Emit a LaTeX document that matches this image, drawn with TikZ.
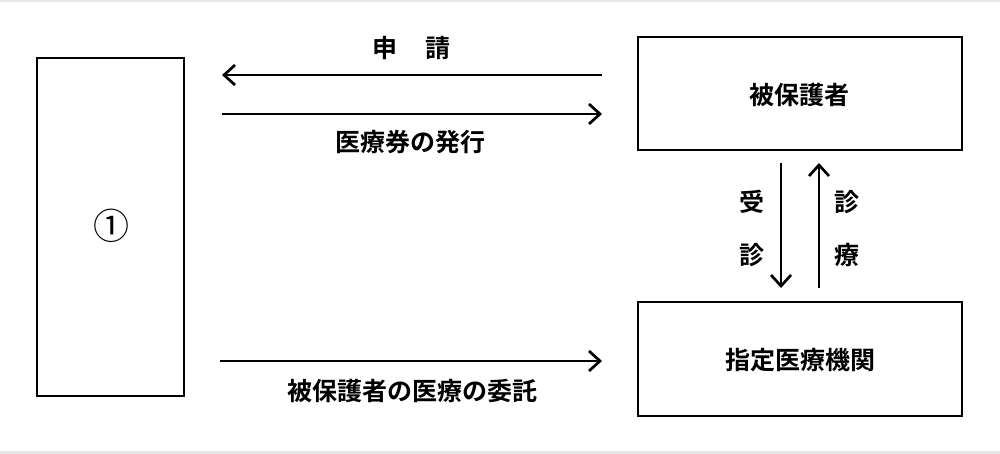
\documentclass[tikz,border=0pt]{standalone}
\usepackage{fontspec}
\newfontfamily\cjk{Noto Sans CJK JP}[BoldFont={Noto Sans CJK JP Bold}]
\usetikzlibrary{arrows.meta}
\begin{document}
\begin{tikzpicture}[x=1pt,y=-1pt,
  box/.style={draw,line width=2.5pt,inner sep=0pt},
  lbl/.style={font=\cjk\bfseries\fontsize{25}{29}\selectfont,inner sep=0pt},
  arr/.style={line width=2.7pt,-{Straight Barb[length=11pt,width=20pt,line width=2.7pt]}}]
\useasboundingbox (0,0) rectangle (1000,454);
\fill[white] (0,0) rectangle (1000,454);
\fill[black!9] (0,0) rectangle (1000,2);
\fill[black!9] (0,451) rectangle (1000,454);
% boxes
\node[box,minimum width=147pt,minimum height=338pt] (A) at (110.5,227) {};
\node[font=\cjk\fontsize{36}{40}\selectfont,inner sep=0pt] (Alab) at (111,226) {①};
\node[box,minimum width=324pt,minimum height=113pt] (B) at (800,93.5) {};
\node[lbl] (Blab) at (799,95) {被保護者};
\node[box,minimum width=324pt,minimum height=114pt] (C) at (800,359) {};
\node[lbl] (Clab) at (800,360) {指定医療機関};
% coordinates
\coordinate (a1) at (222,75);  \coordinate (b1) at (602,75);
\coordinate (a2) at (222,114); \coordinate (b2) at (602,114);
\coordinate (a3) at (220,361); \coordinate (b3) at (602,361);
\coordinate (d1) at (781,163); \coordinate (d2) at (781,288);
\coordinate (u1) at (819,288); \coordinate (u2) at (819,163);
% arrows
\draw[arr] (b1) -- (a1);
\draw[arr] (a2) -- (b2);
\draw[arr] (a3) -- (b3);
\draw[arr] (d1) -- (d2);
\draw[arr] (u1) -- (u2);
% labels
\node[lbl] (l1) at (385,48) {申};
\node[lbl] (l2) at (438,48) {請};
\node[lbl] (l3) at (410,142) {医療券の発行};
\node[lbl] (l4) at (412,391) {被保護者の医療の委託};
\node[lbl] (l5) at (752,202) {受};
\node[lbl] (l6) at (752,255) {診};
\node[lbl] (l7) at (847,202) {診};
\node[lbl] (l8) at (847,255) {療};
\end{tikzpicture}
\end{document}
